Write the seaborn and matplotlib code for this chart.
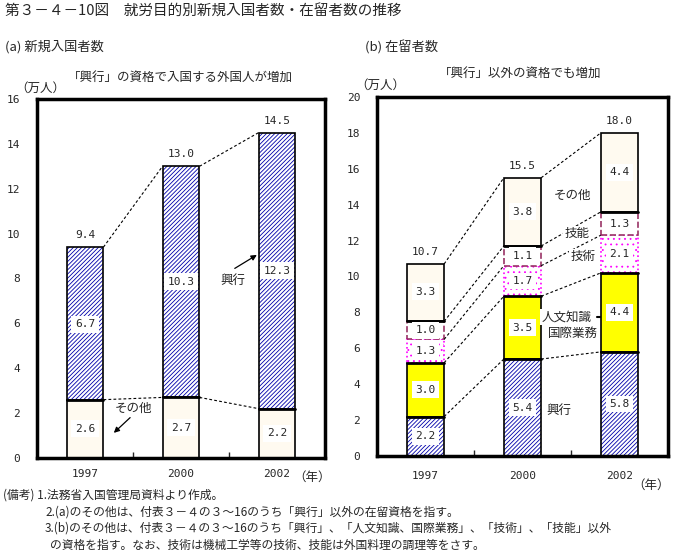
import numpy as np
import pandas as pd
import matplotlib
matplotlib.use("Agg")
import matplotlib.pyplot as plt
import seaborn as sns

# data
years = ["1997", "2000", "2002"]

# (a) new entrants
a_other = [2.6, 2.7, 2.2]
a_kogyo = [6.7, 10.3, 12.3]
a_total = [9.4, 13.0, 14.5]

# (b) residents
b_kogyo = [2.2, 5.4, 5.8]
b_jinbun = [3.0, 3.5, 4.4]
b_gijutsu = [1.3, 1.7, 2.1]
b_gino = [1.0, 1.1, 1.3]
b_other = [3.3, 3.8, 4.4]
b_total = [10.7, 15.5, 18.0]

sns.set_style("white")
plt.rcParams["font.family"] = ["Noto Sans CJK JP", "DejaVu Sans"]
plt.rcParams["hatch.linewidth"] = 0.6

NUM = "DejaVu Sans Mono"
W = 0.385
CREAM = "#fffaf0"
HATCH = "/" * 8

fig = plt.figure(figsize=(6.96, 5.6), dpi=100)
axa = fig.add_axes([37 / 696, 1 - 458 / 560, 288 / 696, 359 / 560])
axb = fig.add_axes([377 / 696, 1 - 456 / 560, 291 / 696, 359 / 560])


def seg(ax, vals, bottom, face, hatch=None, hcolor="black", ls="-",
        edge="black", lw=1.2, outline=True):
    df = pd.DataFrame({"year": years, "v": vals})
    bottom = np.broadcast_to(np.asarray(bottom, dtype=float), (len(years),))
    sns.barplot(data=df, x="year", y="v", bottom=bottom, width=W, ax=ax,
                errorbar=None, color="white", saturation=1,
                facecolor=face, edgecolor=hcolor,
                hatch=hatch, linewidth=0 if outline else lw, linestyle=ls)
    if outline:
        sns.barplot(data=df, x="year", y="v", bottom=bottom, width=W, ax=ax,
                    errorbar=None, color="white", saturation=1,
                    facecolor="none", edgecolor=edge, linewidth=lw)


def label(ax, vals, bottom):
    for i, (v, b) in enumerate(zip(vals, bottom)):
        ax.text(i, b + v / 2, f"{v:.1f}", ha="center", va="center",
                fontsize=8, family=NUM,
                bbox=dict(facecolor="white", edgecolor="none", pad=2.5))


def totals(ax, tops, shown):
    for i, (t, s) in enumerate(zip(tops, shown)):
        ax.annotate(f"{s:.1f}", (i, t), xytext=(0, 5), textcoords="offset points",
                    ha="center", va="bottom", fontsize=8, family=NUM)


def connect(ax, levels):
    levels = np.array(levels)
    for k in range(levels.shape[1]):
        for i in range(len(years) - 1):
            ax.plot([i + W / 2, i + 1 - W / 2], [levels[i, k], levels[i + 1, k]],
                    color="black", lw=0.8, ls=(0, (2.5, 2)))


def arrow(ax, tail, head):
    ax.annotate("", xy=head, xytext=tail,
                arrowprops=dict(arrowstyle="-|>", color="black", lw=0.9,
                                shrinkA=0, shrinkB=0, mutation_scale=8))


# ---- (a)
a_top = [t - o for t, o in zip(a_total, a_other)]
seg(axa, a_other, 0, CREAM)
seg(axa, a_top, a_other, "white", hatch=HATCH, hcolor="#0000aa")
for i, o in enumerate(a_other):
    axa.plot([i - W / 2, i + W / 2], [o, o], color="black", lw=2)
label(axa, a_other, [0, 0, 0])
label(axa, a_kogyo, a_other)
totals(axa, a_total, a_total)
connect(axa, np.column_stack([a_other, a_total]))
axa.text(1.54, 7.9, "興行", fontsize=9, ha="center", va="center")
arrow(axa, (1.56, 8.45), (1.79, 9.05))
axa.text(0.5, 2.2, "その他", fontsize=9, ha="center", va="center")
arrow(axa, (0.47, 1.8), (0.3, 1.12))
axa.set_ylim(0, 16)
axa.set_yticks(range(0, 17, 2))

# ---- (b)
c1 = np.array(b_kogyo)
c2 = c1 + b_jinbun
c3 = c2 + b_gijutsu
c4 = c3 + b_gino
b_top = [t - c for t, c in zip(b_total, c4)]
seg(axb, b_kogyo, 0, "white", hatch=HATCH, hcolor="#0000aa")
seg(axb, b_jinbun, c1, "#ffff00")
seg(axb, b_gijutsu, c2, "white", hatch="...", hcolor="#ff00ff",
    ls=":", lw=1.2, outline=False)
seg(axb, b_gino, c3, "white", hcolor="#993366", ls="--", lw=1.2, outline=False)
seg(axb, b_top, c4, CREAM)
for lv in [c1, c2, c4]:
    for i, v in enumerate(lv):
        axb.plot([i - W / 2, i + W / 2], [v, v], color="black", lw=2)
label(axb, b_kogyo, [0, 0, 0])
label(axb, b_jinbun, c1)
label(axb, b_gijutsu, c2)
label(axb, b_gino, c3)
label(axb, b_other, c4)
totals(axb, b_total, b_total)
connect(axb, np.column_stack([c1, c2, c3, c4, b_total]))
axb.text(1.52, 14.5, "その他", fontsize=9, ha="center", va="center",
         bbox=dict(facecolor="white", edgecolor="none", pad=1))
axb.text(1.56, 12.4, "技能", fontsize=9, ha="center", va="center",
         bbox=dict(facecolor="white", edgecolor="none", pad=1))
axb.text(1.62, 11.1, "技術", fontsize=9, ha="center", va="center",
         bbox=dict(facecolor="white", edgecolor="none", pad=1))
axb.text(1.45, 7.75, "人文知識", fontsize=9, ha="center", va="center",
         bbox=dict(facecolor="white", edgecolor="none", pad=1))
axb.text(1.52, 6.85, "国際業務", fontsize=9, ha="center", va="center",
         bbox=dict(facecolor="white", edgecolor="none", pad=1))
axb.plot([1.77, 1.8], [7.75, 7.75], color="black", lw=1.5)
axb.text(1.37, 2.55, "興行", fontsize=9, ha="center", va="center",
         bbox=dict(facecolor="white", edgecolor="none", pad=1))
axb.set_ylim(0, 20)
axb.set_yticks(range(0, 21, 2))

for ax, pad in [(axa, 8), (axb, 11)]:
    ax.set_xlim(-0.5, 2.5)
    ax.set_xlabel("")
    ax.set_ylabel("")
    for s in ax.spines.values():
        s.set_visible(True)
        s.set_linewidth(2.5)
        s.set_color("black")
    ax.set_xticks([0, 1, 2])
    ax.set_xticklabels(years, family=NUM, fontsize=8)
    ax.set_xticks([0.5, 1.5], minor=True)
    ax.tick_params(axis="x", which="major", length=0, pad=pad)
    ax.tick_params(axis="x", which="minor", length=4, direction="in",
                   width=1, bottom=True)
    ax.tick_params(axis="y", length=0, pad=12)
    for t in ax.get_yticklabels():
        t.set_family(NUM)
        t.set_fontsize(8)

# text
fig.text(5 / 696, 1 - 12 / 560, "第３－４－10図　就労目的別新規入国者数・在留者数の推移",
         fontsize=10.5, va="center")
fig.text(5 / 696, 1 - 47 / 560, "(a) 新規入国者数", fontsize=9.5, va="center")
fig.text(365 / 696, 1 - 47 / 560, "(b) 在留者数", fontsize=9.5, va="center")
fig.text(180 / 696, 1 - 77 / 560, "「興行」の資格で入国する外国人が増加",
         fontsize=9, ha="center", va="center")
fig.text(520 / 696, 1 - 73 / 560, "「興行」以外の資格でも増加",
         fontsize=9, ha="center", va="center")
fig.text(40 / 696, 1 - 88 / 560, "（万人）", fontsize=9, ha="center", va="center")
fig.text(380 / 696, 1 - 85 / 560, "（万人）", fontsize=9, ha="center", va="center")
fig.text(312 / 696, 1 - 477 / 560, "（年）", fontsize=9, ha="center", va="center")
fig.text(651 / 696, 1 - 485 / 560, "（年）", fontsize=9, ha="center", va="center")

notes = [
    (3, 495, "(備考) 1.法務省入国管理局資料より作成。"),
    (45, 512, "2.(a)のその他は、付表３－４の３～16のうち「興行」以外の在留資格を指す。"),
    (45, 528, "3.(b)のその他は、付表３－４の３～16のうち「興行」、「人文知識、国際業務」、「技術」、「技能」以外"),
    (50, 545, "の資格を指す。なお、技術は機械工学等の技術、技能は外国料理の調理等をさす。"),
]
for x, y, s in notes:
    fig.text(x / 696, 1 - y / 560, s, fontsize=8.5, va="center")

fig.savefig("out.png", dpi=100)
